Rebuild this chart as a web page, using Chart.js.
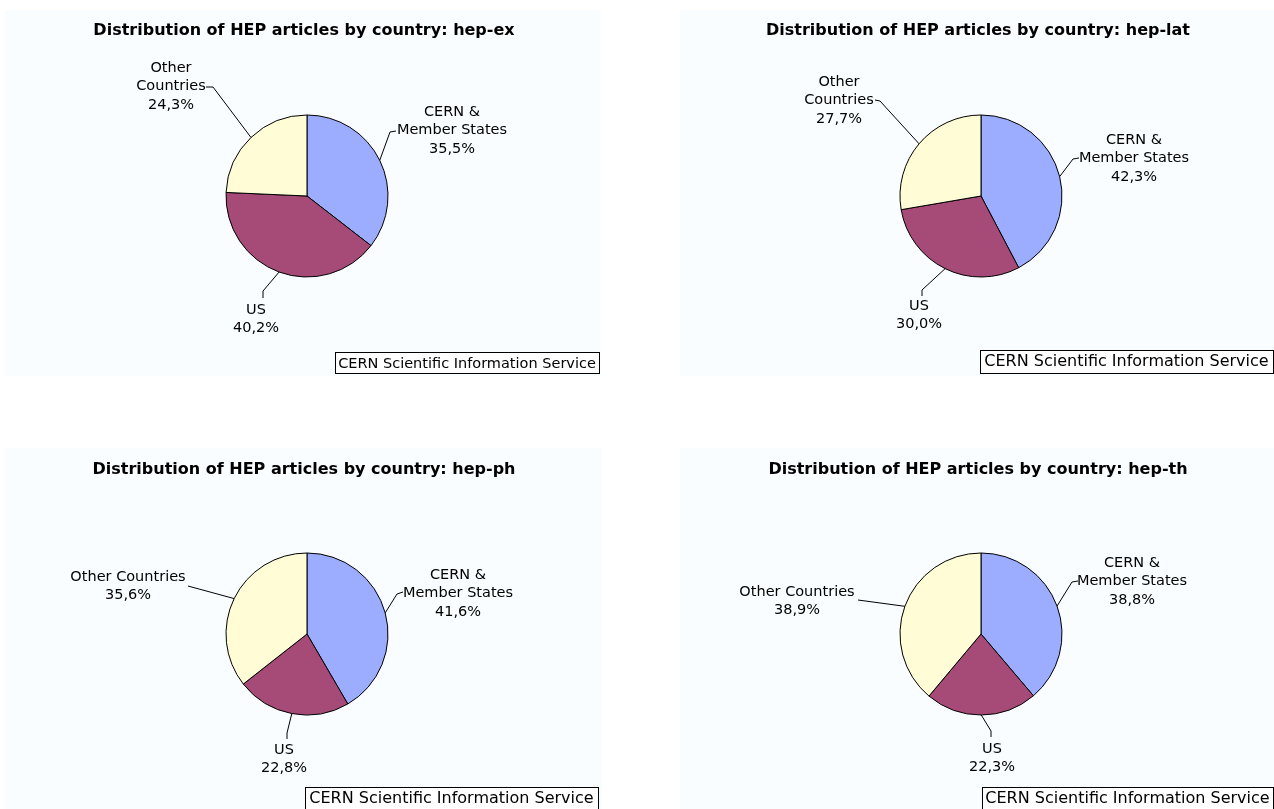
<!DOCTYPE html>
<html>
<head>
<meta charset="utf-8">
<script src="https://cdn.jsdelivr.net/npm/chart.js@4.4.0/dist/chart.umd.min.js"></script>
<style>
  html, body { margin: 0; padding: 0; background: #fff; }
  #page { position: relative; width: 1274px; height: 809px; overflow: hidden; }
  .quad { position: absolute; }
</style>
</head>
<body>
<div id="page">
  <div class="quad" style="left:0;top:0;width:640px;height:404px"><canvas id="c0"></canvas></div>
  <div class="quad" style="left:640px;top:0;width:634px;height:404px"><canvas id="c1"></canvas></div>
  <div class="quad" style="left:0;top:404px;width:640px;height:405px"><canvas id="c2"></canvas></div>
  <div class="quad" style="left:640px;top:404px;width:634px;height:405px"><canvas id="c3"></canvas></div>
</div>
<script>
// data
const categories = ['CERN & Member States', 'US', 'Other Countries'];
const sections = ['hep-ex', 'hep-lat', 'hep-ph', 'hep-th'];
const hepEx = [35.5, 40.2, 24.3];
const hepLat = [42.3, 30.0, 27.7];
const hepPh = [41.6, 22.8, 35.6];
const hepTh = [38.8, 22.3, 38.9];
const titlePrefix = 'Distribution of HEP articles by country: ';
const credit = 'CERN Scientific Information Service';

const colors = ['#9cacff', '#a64a78', '#fffcd6'];
const panelBg = '#f9fdff';
const FONT = '"DejaVu Sans", Verdana, sans-serif';

// layout of each panel, page coordinates
const panels = [
  {
    id: 'c0', origin: [0, 0], size: [640, 404], values: hepEx,
    bg: [5, 10, 596, 366], center: [307, 196], r: 81, titleAt: [304, 31],
    box: [335, 352, 264, 21], boxFont: 14.5,
    labels: [
      { text: [452, 112], elbow: [390, 132], end: [396, 131] },
      { text: [256, 310], elbow: [263, 291], end: [263, 298] },
      { text: [171, 68], elbow: [213, 87], end: [206, 87], wrap: true }
    ]
  },
  {
    id: 'c1', origin: [640, 0], size: [634, 404], values: hepLat,
    bg: [680, 10, 594, 366], center: [981, 196], r: 81, titleAt: [978, 31],
    box: [980, 350, 293, 23], boxFont: 16,
    labels: [
      { text: [1134, 140], elbow: [1073, 159], end: [1079, 158] },
      { text: [919, 306], elbow: [922, 290], end: [922, 296] },
      { text: [839, 82], elbow: [880, 101], end: [875, 100], wrap: true }
    ]
  },
  {
    id: 'c2', origin: [0, 404], size: [640, 405], values: hepPh,
    bg: [5, 448, 597, 361], center: [307, 634], r: 81, titleAt: [304, 470],
    box: [305, 787, 293, 24], boxFont: 16,
    labels: [
      { text: [458, 575], elbow: [397, 594], end: [403, 592] },
      { text: [284, 750], elbow: [287, 733], end: [287, 739] },
      { text: [128, 577], end: [188, 586] }
    ]
  },
  {
    id: 'c3', origin: [640, 404], size: [634, 405], values: hepTh,
    bg: [680, 448, 594, 361], center: [981, 634], r: 81, titleAt: [978, 470],
    box: [982, 787, 291, 24], boxFont: 16,
    labels: [
      { text: [1132, 563], elbow: [1072, 582], end: [1078, 581] },
      { text: [992, 749], elbow: [991, 731], end: [991, 737] },
      { text: [797, 592], end: [858, 600] }
    ]
  }
];

function labelLines(i, value, wrap) {
  let lines;
  if (i === 0) lines = ['CERN &', 'Member States'];
  else if (i === 2 && wrap) lines = ['Other', 'Countries'];
  else lines = [categories[i]];
  lines.push(value.toFixed(1).replace('.', ',') + '%');
  return lines;
}

const decorPlugin = {
  id: 'decor',
  beforeDraw(chart) {
    const p = chart.options.plugins.decor.panel;
    const ctx = chart.ctx;
    ctx.save();
    ctx.translate(-p.origin[0], -p.origin[1]);
    ctx.fillStyle = panelBg;
    ctx.fillRect(p.bg[0], p.bg[1], p.bg[2], p.bg[3]);
    ctx.restore();
  },
  afterDatasetsDraw(chart) {
    const p = chart.options.plugins.decor.panel;
    const idx = chart.options.plugins.decor.index;
    const ctx = chart.ctx;
    ctx.save();
    ctx.translate(-p.origin[0], -p.origin[1]);
    const ox = p.origin[0], oy = p.origin[1];

    // title
    ctx.fillStyle = '#000';
    ctx.font = 'bold 16px ' + FONT;
    ctx.textAlign = 'center';
    ctx.textBaseline = 'middle';
    ctx.fillText(titlePrefix + sections[idx], p.titleAt[0], p.titleAt[1]);

    // leader lines and labels
    const arcs = chart.getDatasetMeta(0).data;
    ctx.strokeStyle = '#000';
    ctx.lineWidth = 1;
    ctx.font = '14.5px ' + FONT;
    arcs.forEach((arc, i) => {
      const spec = p.labels[i];
      const mid = (arc.startAngle + arc.endAngle) / 2;
      const ax = arc.x + ox + Math.cos(mid) * arc.outerRadius;
      const ay = arc.y + oy + Math.sin(mid) * arc.outerRadius;
      ctx.beginPath();
      ctx.moveTo(ax, ay);
      if (spec.elbow) ctx.lineTo(spec.elbow[0], spec.elbow[1]);
      ctx.lineTo(spec.end[0], spec.end[1]);
      ctx.stroke();
      const lines = labelLines(i, p.values[i], spec.wrap);
      lines.forEach((ln, k) => {
        ctx.fillText(ln, spec.text[0], spec.text[1] + k * 18.5);
      });
    });

    // credit box
    const b = p.box;
    ctx.fillStyle = '#fff';
    ctx.fillRect(b[0], b[1], b[2], b[3]);
    ctx.strokeStyle = '#000';
    ctx.strokeRect(b[0] + 0.5, b[1] + 0.5, b[2], b[3]);
    ctx.fillStyle = '#000';
    let fs = p.boxFont;
    ctx.font = fs + 'px ' + FONT;
    while (ctx.measureText(credit).width > b[2] - 6 && fs > 8) {
      fs -= 0.5;
      ctx.font = fs + 'px ' + FONT;
    }
    ctx.fillText(credit, b[0] + b[2] / 2, b[1] + 12);
    ctx.restore();
  }
};

panels.forEach((p, idx) => {
  const cx = p.center[0] - p.origin[0];
  const cy = p.center[1] - p.origin[1];
  new Chart(document.getElementById(p.id), {
    type: 'pie',
    data: {
      labels: categories,
      datasets: [{
        data: p.values,
        backgroundColor: colors,
        borderColor: '#000',
        borderWidth: 1,
        radius: p.r
      }]
    },
    options: {
      responsive: true,
      maintainAspectRatio: false,
      animation: false,
      events: [],
      layout: {
        padding: {
          left: cx - p.r,
          right: p.size[0] - cx - p.r,
          top: cy - p.r,
          bottom: p.size[1] - cy - p.r
        }
      },
      plugins: {
        legend: { display: false },
        tooltip: { enabled: false },
        decor: { panel: p, index: idx }
      }
    },
    plugins: [decorPlugin]
  });
});
</script>
</body>
</html>
